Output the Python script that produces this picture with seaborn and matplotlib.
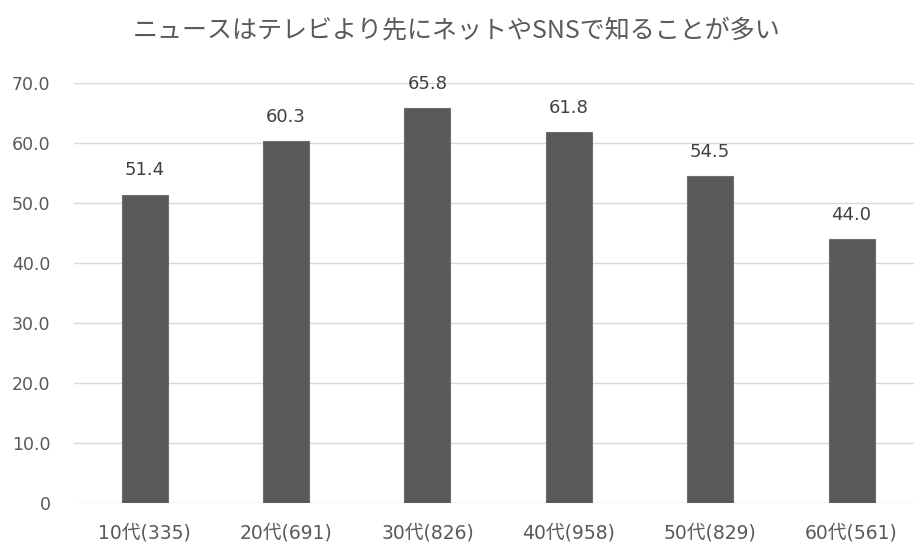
import matplotlib
matplotlib.use("Agg")
import matplotlib.pyplot as plt
import seaborn as sns
import pandas as pd

categories = ["10代(335)", "20代(691)", "30代(826)", "40代(958)", "50代(829)", "60代(561)"]
values = [51.4, 60.3, 65.8, 61.8, 54.5, 44.0]
title = "ニュースはテレビより先にネットやSNSで知ることが多い"
yticks = [0, 10, 20, 30, 40, 50, 60, 70]
ytick_labels = ["0", "10.0", "20.0", "30.0", "40.0", "50.0", "60.0", "70.0"]

sns.set_theme(style="white")
plt.rcParams['font.family'] = ['DejaVu Sans', 'Noto Sans CJK JP']

df = pd.DataFrame({"cat": categories, "val": values})

fig = plt.figure(figsize=(9.14, 5.47), dpi=100)
ax = fig.add_axes([0.081, 0.0804, 0.928, 0.768])

text_color = "#595959"
sns.barplot(data=df, x="cat", y="val", color="#595959", width=0.325,
            edgecolor="#6e6e6e", linewidth=0.8, ax=ax, saturation=1)

ax.set_xlim(-0.5, 5.5)
ax.set_ylim(0, 70)
ax.set_yticks(yticks)
ax.set_yticklabels(ytick_labels)
ax.yaxis.grid(True, color="#d9d9d9", linewidth=1)
ax.set_axisbelow(True)
for s in ax.spines.values():
    s.set_visible(False)
ax.set_xlabel("")
ax.set_ylabel("")
ax.tick_params(axis="both", length=0, colors=text_color)
ax.tick_params(axis="y", pad=17, labelsize=12.5)
ax.tick_params(axis="x", pad=15, labelsize=13.5)
for lab in ax.get_xticklabels() + ax.get_yticklabels():
    lab.set_family(['DejaVu Sans', 'Noto Sans CJK JP'])

for i, v in enumerate(values):
    ax.annotate(f"{v:.1f}", xy=(i, v), xytext=(0, 14), textcoords="offset points",
                ha="center", va="baseline", fontsize=13, color="#404040",
                annotation_clip=False)

fig.text(0.5, 0.945, title, ha="center", va="center", fontsize=18, color="#595959",
         family=['Noto Sans CJK JP', 'DejaVu Sans'])

fig.savefig("out.png", dpi=100)
